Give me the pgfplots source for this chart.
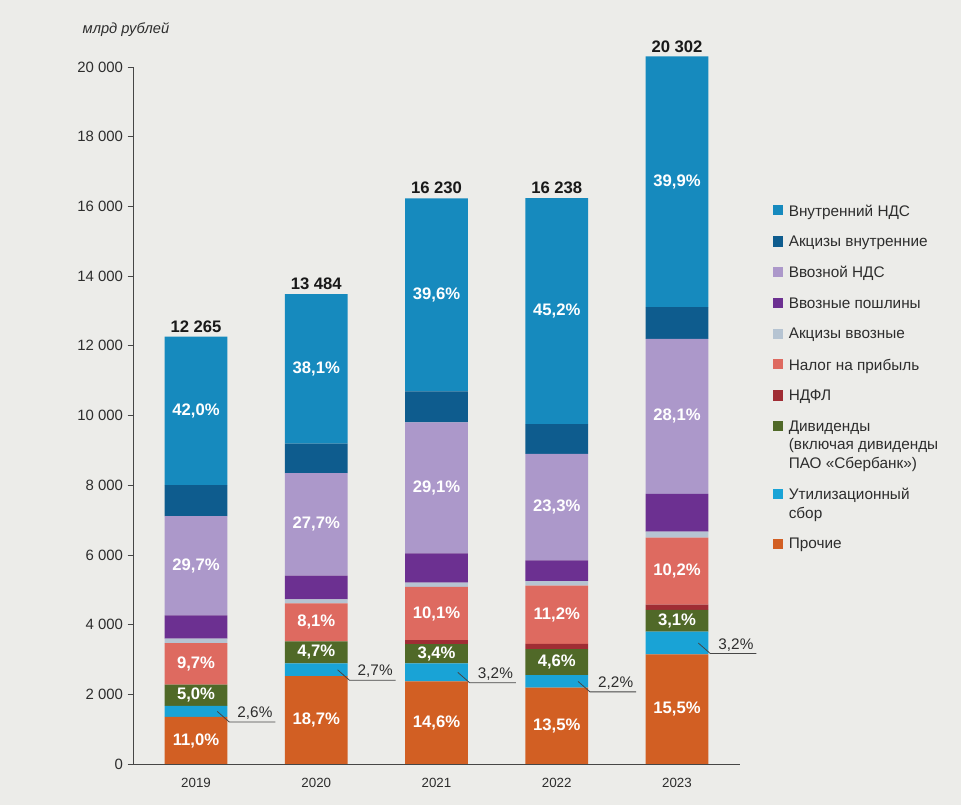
\documentclass[border=0pt]{standalone}
\usepackage{pgfplots}
\pgfplotsset{compat=1.18}
\usepackage{pgfplotstable}
\usepackage{fontspec}
\setmainfont{Liberation Sans}

\definecolor{bgc}{RGB}{236,236,233}
\definecolor{cNdsDom}{RGB}{22,138,190}
\definecolor{cAccDom}{RGB}{14,92,142}
\definecolor{cNdsImp}{RGB}{172,152,202}
\definecolor{cDutyImp}{RGB}{108,48,145}
\definecolor{cAccImp}{RGB}{182,196,210}
\definecolor{cProfit}{RGB}{222,106,96}
\definecolor{cNdfl}{RGB}{160,45,52}
\definecolor{cDiv}{RGB}{80,105,40}
\definecolor{cUtil}{RGB}{25,163,214}
\definecolor{cOther}{RGB}{210,95,35}
\definecolor{axc}{RGB}{70,70,70}
\definecolor{txc}{RGB}{45,45,45}
\pagecolor{bgc}

\pgfplotstableread{
x other util div ndfl profit accimp dutyimp ndsimp accdom ndsdom
0 1349 319 613 0 1190 124 670 2849 887 4264
1 2522 364 634 0 1092 115 675 2945 844 4293
2 2370 519 552 110 1529 125 842 3756 887 5540
3 2192 357 747 150 1669 136 593 3054 851 6489
4 3147 650 629 150 1921 171 1084 4450 907 7193
}\budget

\pgfplotsset{sqleg/.style={legend image code/.code={\fill[##1] (0pt,-10.2pt) rectangle (7.8pt,-2.4pt);}}}
\tikzset{
  pl/.style={font=\bfseries\fontsize{12.5}{14}\selectfont, text=white},
  tot/.style={anchor=south, inner sep=3pt, font=\bfseries\fontsize{12.5}{14}\selectfont, text=black!90},
  co/.style={anchor=south, inner sep=1.5pt, font=\fontsize{11.5}{13}\selectfont, text=txc},
  cl/.style={axc, line width=0.6pt}
}

\begin{document}%
\begin{tikzpicture}
\path (0pt,0pt) rectangle (720.75pt,-603.75pt);
\node[font=\itshape\fontsize{11}{13}\selectfont, text=txc] at (94.5pt,-22.5pt) {млрд рублей};
\begin{axis}[
  set layers=standard,
  every axis plot/.append style={on layer=axis background},
  at={(99.75pt,-573pt)}, anchor=south west,
  width=455.25pt, height=522.75pt, scale only axis,
  ybar stacked, bar width=47pt,
  xmin=-0.524, xmax=4.524, ymin=0, ymax=20000,
  clip=false,
  axis x line*=bottom, axis y line*=left,
  axis line style={axc, line width=0.6pt},
  xtick={0,1,2,3,4}, xticklabels={2019,2020,2021,2022,2023},
  x tick style={draw=none},
  ytick={0,2000,...,20000},
  y tick style={axc, line width=0.6pt},
  tick align=outside, major tick length=4pt,
  scaled y ticks=false,
  yticklabel style={/pgf/number format/.cd, 1000 sep={\ }, assume math mode=true},
  tick label style={font=\fontsize{11.2}{12}\selectfont, text=txc},
  xticklabel style={yshift=-3pt, font=\fontsize{10}{12}\selectfont},
  reverse legend,
  legend style={at={(1.054,0.807)}, anchor=north west, draw=none, fill=none,
    font=\fontsize{11.5}{14}\selectfont, text=txc, row sep=9.25pt, inner sep=0pt,
    column sep=2pt,
    cells={anchor=north west, align=left}},
]
\addplot[fill=cOther, draw=none, sqleg] table[x=x,y=other]{\budget};
\addlegendentry{Прочие}
\addplot[fill=cUtil, draw=none, sqleg] table[x=x,y=util]{\budget};
\addlegendentry{Утилизационный\\сбор}
\addplot[fill=cDiv, draw=none, sqleg] table[x=x,y=div]{\budget};
\addlegendentry{Дивиденды\\(включая дивиденды\\ПАО «Сбербанк»)}
\addplot[fill=cNdfl, draw=none, sqleg] table[x=x,y=ndfl]{\budget};
\addlegendentry{НДФЛ}
\addplot[fill=cProfit, draw=none, sqleg] table[x=x,y=profit]{\budget};
\addlegendentry{Налог на прибыль}
\addplot[fill=cAccImp, draw=none, sqleg] table[x=x,y=accimp]{\budget};
\addlegendentry{Акцизы ввозные}
\addplot[fill=cDutyImp, draw=none, sqleg] table[x=x,y=dutyimp]{\budget};
\addlegendentry{Ввозные пошлины}
\addplot[fill=cNdsImp, draw=none, sqleg] table[x=x,y=ndsimp]{\budget};
\addlegendentry{Ввозной НДС}
\addplot[fill=cAccDom, draw=none, sqleg] table[x=x,y=accdom]{\budget};
\addlegendentry{Акцизы внутренние}
\addplot[fill=cNdsDom, draw=none, sqleg] table[x=x,y=ndsdom]{\budget};
\addlegendentry{Внутренний НДС}

% totals
\node[tot] at (axis cs:0,12265) {12 265};
\node[tot] at (axis cs:1,13484) {13 484};
\node[tot] at (axis cs:2,16230) {16 230};
\node[tot] at (axis cs:3,16238) {16 238};
\node[tot] at (axis cs:4,20302) {20 302};

% segment shares
\node[pl] at (axis cs:0,674.5) {11,0\%};
\node[pl] at (axis cs:0,1974.5) {5,0\%};
\node[pl] at (axis cs:0,2876) {9,7\%};
\node[pl] at (axis cs:0,5689.5) {29,7\%};
\node[pl] at (axis cs:0,10133) {42,0\%};

\node[pl] at (axis cs:1,1261) {18,7\%};
\node[pl] at (axis cs:1,3203) {4,7\%};
\node[pl] at (axis cs:1,4066) {8,1\%};
\node[pl] at (axis cs:1,6874.5) {27,7\%};
\node[pl] at (axis cs:1,11337.5) {38,1\%};

\node[pl] at (axis cs:2,1185) {14,6\%};
\node[pl] at (axis cs:2,3165) {3,4\%};
\node[pl] at (axis cs:2,4315.5) {10,1\%};
\node[pl] at (axis cs:2,7925) {29,1\%};
\node[pl] at (axis cs:2,13460) {39,6\%};

\node[pl] at (axis cs:3,1096) {13,5\%};
\node[pl] at (axis cs:3,2922.5) {4,6\%};
\node[pl] at (axis cs:3,4280.5) {11,2\%};
\node[pl] at (axis cs:3,7371) {23,3\%};
\node[pl] at (axis cs:3,12993.5) {45,2\%};

\node[pl] at (axis cs:4,1573.5) {15,5\%};
\node[pl] at (axis cs:4,4111.5) {3,1\%};
\node[pl] at (axis cs:4,5536.5) {10,2\%};
\node[pl] at (axis cs:4,9977) {28,1\%};
\node[pl] at (axis cs:4,16705.5) {39,9\%};

% callouts for utilization fee
\draw[cl] (axis cs:0.177,1508) -- (axis cs:0.276,1208) -- (axis cs:0.66,1208);
\node[co] at (axis cs:0.49,1208) {2,6\%};
\draw[cl] (axis cs:1.177,2704) -- (axis cs:1.276,2404) -- (axis cs:1.66,2404);
\node[co] at (axis cs:1.49,2404) {2,7\%};
\draw[cl] (axis cs:2.177,2630) -- (axis cs:2.276,2330) -- (axis cs:2.66,2330);
\node[co] at (axis cs:2.49,2330) {3,2\%};
\draw[cl] (axis cs:3.177,2370) -- (axis cs:3.276,2070) -- (axis cs:3.66,2070);
\node[co] at (axis cs:3.49,2070) {2,2\%};
\draw[cl] (axis cs:4.177,3472) -- (axis cs:4.276,3172) -- (axis cs:4.66,3172);
\node[co] at (axis cs:4.49,3172) {3,2\%};
\end{axis}
\end{tikzpicture}%
\end{document}
